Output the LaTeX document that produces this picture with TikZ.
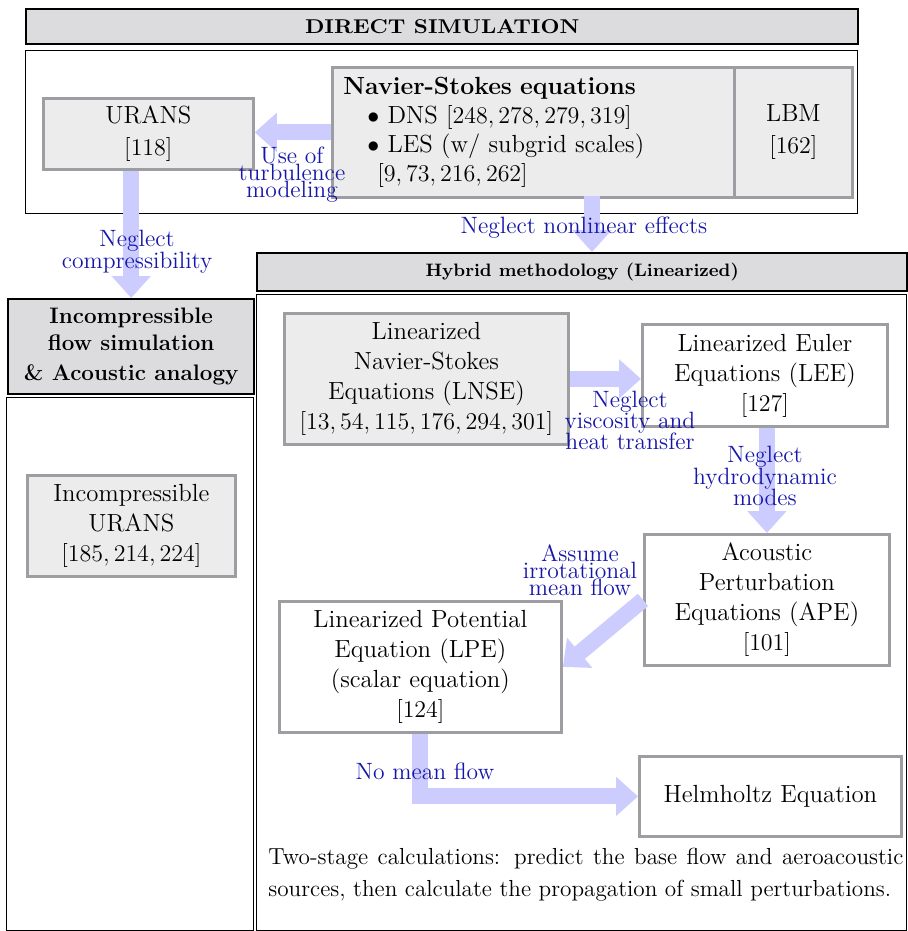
\documentclass[tikz,border=0pt]{standalone}
\usepackage{graphicx}
\usetikzlibrary{arrows.meta}
\definecolor{hdrgray}{RGB}{220,220,222}
\definecolor{boxgray}{RGB}{236,236,236}
\definecolor{boxborder}{RGB}{158,158,162}
\definecolor{arrowblue}{RGB}{204,204,255}
\definecolor{lblblue}{RGB}{22,22,170}
\newcommand{\mainfs}{\fontsize{12.4}{15}\selectfont}
\newcommand{\lblfs}[1]{\fontsize{11.8}{#1}\selectfont\lineskiplimit=-20pt\relax}
\tikzset{
  hdr/.style={draw=black, line width=1.2pt, fill=hdrgray, inner sep=0pt, anchor=north west, align=center},
  cont/.style={draw=black, line width=0.6pt, inner sep=0pt, anchor=north west},
  gbox/.style={draw=boxborder, line width=1.4pt, fill=boxgray, inner sep=0pt, anchor=north west, align=center, font=\mainfs},
  wbox/.style={gbox, fill=white},
  flow/.style={draw=arrowblue, line width=8pt, line join=miter, -{Triangle[length=11pt,width=19pt]}},
  lbl/.style={text=lblblue, align=center, inner sep=0pt},
}
\begin{document}
\begin{tikzpicture}[x=0.5pt,y=-0.5pt]
\useasboundingbox (0,0) rectangle (907,931);
% containers
\node[cont, minimum width=416pt, minimum height=81.5pt] (dcont) at (25,50) {};
\node[cont, minimum width=123.5pt, minimum height=266.5pt] (lcont) at (6,397) {};
\node[cont, minimum width=325pt, minimum height=318pt] (hcont) at (256,294) {};
% headers
\node[hdr, minimum width=416pt, minimum height=17.5pt, font=\fontsize{10}{12}\selectfont\bfseries] (dhdr) at (25,8) {\scalebox{1.1}[1]{DIRECT SIMULATION}};
\node[hdr, minimum width=123pt, minimum height=47.5pt, font=\fontsize{11.2}{13.5}\selectfont\bfseries] (inchdr) at (7,298) {Incompressible\\flow simulation\\[1.5pt]\& Acoustic analogy};
\node[hdr, minimum width=325pt, minimum height=19pt, font=\fontsize{9}{11}\selectfont\bfseries] (hhdr) at (256,252) {Hybrid methodology (Linearized)};
% boxes
\node[gbox, minimum width=105pt, minimum height=35.5pt] (urans) at (42,97) {URANS\\[1pt]$[118]$};
\node[gbox, align=left, text width=190pt, inner xsep=5.5pt, minimum height=65pt, font=\fontsize{12.4}{14.5}\selectfont] (ns) at (331,66)
  {\textbf{Navier-Stokes equations}\\
   \hspace*{12pt}$\bullet$ DNS $[248,278,279,319]$\\
   \hspace*{12pt}$\bullet$ LES (w/ subgrid scales)\\
   \hspace*{17pt}$[9,73,216,262]$};
\node[gbox, minimum width=59pt, minimum height=65pt] (lbm) at (733,66) {LBM\\[1pt]$[162]$};
\node[gbox, minimum width=104pt, minimum height=50.5pt] (iurans) at (26,474) {Incompressible\\URANS\\$[185,214,224]$};
\node[gbox, minimum width=142pt, minimum height=65.5pt] (lnse) at (283,312) {Linearized\\Navier-Stokes\\Equations (LNSE)\\$[13,54,115,176,294,301]$};
\node[wbox, minimum width=122.5pt, minimum height=51pt] (lee) at (641,323) {Linearized Euler\\Equations (LEE)\\$[127]$};
\node[wbox, minimum width=122.5pt, minimum height=65.5pt] (ape) at (643,533) {Acoustic\\Perturbation\\Equations (APE)\\$[101]$};
\node[wbox, minimum width=141pt, minimum height=65.5pt] (lpe) at (278,600) {Linearized Potential\\Equation (LPE)\\(scalar equation)\\$[124]$};
\node[wbox, minimum width=131pt, minimum height=40pt] (helm) at (638,755) {Helmholtz Equation};
\node[anchor=north west, inner sep=0pt, text width=317.5pt, align=justify, font=\fontsize{11.6}{16}\selectfont] (note) at (268,848)
  {Two-stage calculations: predict the base flow and aeroacoustic\linebreak sources, then calculate the propagation of small perturbations.};
% arrows
\coordinate (nsout) at (592,196);
\draw[flow] (ns.west) -- (urans.east |- ns.west);
\draw[flow] (urans.south -| inchdr.north) -- (inchdr.north);
\draw[flow] (nsout) -- (nsout |- hhdr.north);
\draw[flow] (lnse.east) -- (lnse.east -| lee.west);
\draw[flow] (lee.south -| ape.north) -- (ape.north);
\draw[flow] (ape.west) -- (lpe.east);
\draw[flow] (lpe.south) |- (helm.west);
% labels
\node[lbl, font=\lblfs{8.5}] (l1) at (292,175) {Use of\\turbulence\\modeling};
\node[lbl, font=\lblfs{11}] (l2) at (137,252) {Neglect\\compressibility};
\node[lbl, font=\lblfs{11}] (l3) at (584,228) {Neglect nonlinear effects};
\node[lbl, font=\lblfs{10.5}] (l4) at (630,420) {Neglect\\viscosity and\\heat transfer};
\node[lbl, font=\lblfs{10.75}] (l5) at (765,476) {Neglect\\hydrodynamic\\modes};
\node[lbl, font=\lblfs{8.5}] (l6) at (580,570) {Assume\\irrotational\\mean flow};
\node[lbl, font=\lblfs{11}] (l7) at (425,771) {No mean flow};
\end{tikzpicture}
\end{document}
